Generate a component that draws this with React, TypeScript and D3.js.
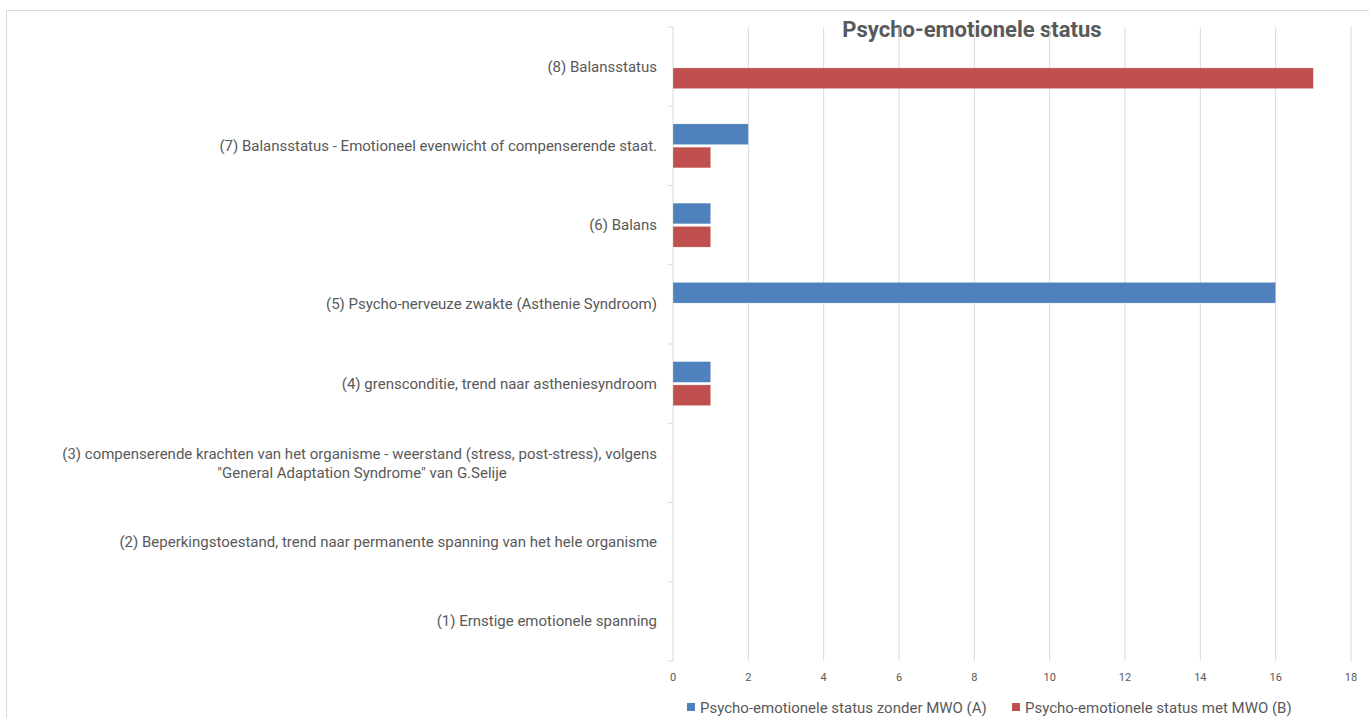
import React from "react";
import * as d3 from "d3";

const categories = [
  "(1) Ernstige emotionele spanning",
  "(2) Beperkingstoestand, trend naar permanente spanning van het hele organisme",
  "(3) compenserende krachten van het organisme - weerstand (stress, post-stress), volgens|\"General Adaptation Syndrome\" van G.Selije",
  "(4) grensconditie, trend naar astheniesyndroom",
  "(5) Psycho-nerveuze zwakte (Asthenie Syndroom)",
  "(6) Balans",
  "(7) Balansstatus - Emotioneel evenwicht of compenserende staat.",
  "(8) Balansstatus",
];
const seriesNames = [
  "Psycho-emotionele status zonder MWO (A)",
  "Psycho-emotionele status met MWO (B)",
];
const seriesA = [0, 0, 0, 1, 16, 1, 2, 0];
const seriesB = [0, 0, 0, 1, 0, 1, 1, 17];
const xTicks = [0, 2, 4, 6, 8, 10, 12, 14, 16, 18];
const title = "Psycho-emotionele status";

const W = 1369;
const H = 718;
const colors = ["#4F81BD", "#C0504D"];
const font = "Roboto, 'Open Sans', sans-serif";
const textColor = "#595959";

export default function App() {
  const left = 673;
  const right = 1351;
  const top = 27;
  const bottom = 661;
  const x = d3.scaleLinear().domain([0, 18]).range([left, right]);
  const order = categories.map((_, i) => i).reverse(); // top = (8)
  const y = d3
    .scaleBand<number>()
    .domain(order)
    .range([top, bottom])
    .paddingInner(0)
    .paddingOuter(0);
  const bw = y.bandwidth();
  const groupH = bw * 0.555;
  const inner = d3
    .scaleBand<number>()
    .domain([0, 1])
    .range([0, groupH])
    .paddingInner(0.11);
  const series = [seriesA, seriesB];

  return (
    <div style={{ position: "absolute", left: 0, top: 0 }}>
      <svg width={W} height={H} style={{ display: "block", background: "#fff" }}>
        <rect x={6.5} y={10.5} width={W + 10} height={H + 10} fill="#fff" stroke="#d9d9d9" />
        <text
          x={972}
          y={37}
          textAnchor="middle"
          fontFamily={font}
          fontWeight="bold"
          fontSize={22}
          fill={textColor}
        >
          {title}
        </text>
        {xTicks.slice(1).map((t) => (
          <line key={t} x1={x(t)} x2={x(t)} y1={top} y2={bottom} stroke="#d9d9d9" />
        ))}
        <line x1={left} x2={left} y1={top} y2={bottom} stroke="#d9d9d9" />
        {d3.range(categories.length + 1).map((i) => (
          <line
            key={i}
            x1={left - 5}
            x2={left}
            y1={top + i * bw}
            y2={top + i * bw}
            stroke="#d9d9d9"
          />
        ))}
        {xTicks.map((t) => (
          <text
            key={t}
            x={x(t)}
            y={681}
            textAnchor="middle"
            fontFamily={font}
            fontSize={11}
            fill={textColor}
          >
            {t}
          </text>
        ))}
        {categories.map((c, i) => {
          const cy = (y(i) as number) + bw / 2;
          const lines = c.split("|");
          if (lines.length === 1) {
            return (
              <text
                key={i}
                x={657}
                y={cy + 5}
                textAnchor="end"
                fontFamily={font}
                fontSize={15}
                fill={textColor}
              >
                {c}
              </text>
            );
          }
          return (
            <g key={i}>
              <text x={657} y={cy - 4} textAnchor="end" fontFamily={font} fontSize={15} fill={textColor}>
                {lines[0]}
              </text>
              <text x={362} y={cy + 15} textAnchor="middle" fontFamily={font} fontSize={15} fill={textColor}>
                {lines[1]}
              </text>
            </g>
          );
        })}
        {series.map((s, si) =>
          s.map((v, i) => {
            if (v === 0) return null;
            const by = (y(i) as number) + (bw - groupH) / 2 + (inner(si) as number);
            return (
              <rect
                key={si + "-" + i}
                x={x(0)}
                y={by}
                width={x(v) - x(0)}
                height={inner.bandwidth()}
                fill={colors[si]}
                stroke="#fff"
                strokeOpacity={0.5}
                strokeWidth={0.5}
              />
            );
          })
        )}
        {seriesNames.map((n, si) => {
          const lx = si === 0 ? 687 : 1012;
          return (
            <g key={n}>
              <rect x={lx} y={703} width={8} height={8} fill={colors[si]} />
              <text x={lx + 13} y={713} fontFamily={font} fontSize={15} fill={textColor}>
                {n}
              </text>
            </g>
          );
        })}
      </svg>
    </div>
  );
}
